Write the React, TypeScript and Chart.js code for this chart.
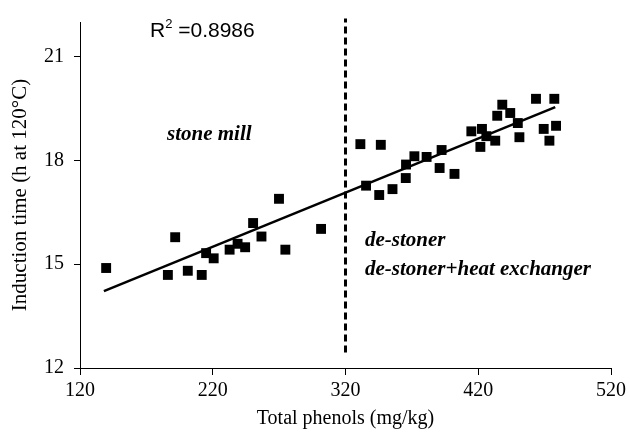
import React, { useEffect, useRef } from "react";
import { Chart, registerables } from "chart.js";

Chart.register(...registerables);

// ---- data ----
const xTickValues = [120, 220, 320, 420, 520];
const yTickValues = [12, 15, 18, 21];

const phenols = [
  139.7, 186.2, 191.7, 201.2, 211.7, 215.0, 220.7, 232.7, 238.7, 244.4, 250.4, 256.7, 269.9, 274.7, 301.6,
  331.2, 346.6, 335.5, 345.4, 355.4, 365.4, 365.6, 371.9, 381.1, 392.4, 390.9, 402.1, 414.8, 422.8, 426.1,
  421.6, 432.8, 434.3, 438.1, 444.1, 449.8, 451.0, 463.5, 477.3, 469.3, 478.6, 473.6,
];
const induction = [
  14.89, 14.69, 15.78, 14.81, 14.69, 15.32, 15.17, 15.42, 15.59, 15.49, 16.19, 15.8, 16.89, 15.42, 16.02,
  18.47, 18.45, 17.27, 17.0, 17.17, 17.49, 17.88, 18.12, 18.1, 18.3, 17.78, 17.61, 18.84, 18.91, 18.7,
  18.39, 18.57, 19.29, 19.61, 19.37, 19.08, 18.67, 19.78, 19.78, 18.91, 19.0, 18.57,
];

const fitX = [138, 478];
const fitY = [14.22, 19.54];

const cutX = [320, 320];
const cutY = [12.45, 22.1];

const r2Text = ["R", "2", " =0.8986"];
const groupLabels = ["stone mill", "de-stoner", "de-stoner+heat exchanger"];

const xTitle = "Total phenols (mg/kg)";
const yTitle = "Induction time (h at 120°C)";

const SERIF = '"Liberation Serif", "Times New Roman", Times, serif';
const SANS = '"Liberation Sans", Arial, Helvetica, sans-serif';

const textPlugin = {
  id: "annotTexts",
  afterDatasetsDraw(chart: any) {
    const { ctx } = chart;
    ctx.save();
    ctx.fillStyle = "#000";
    ctx.textBaseline = "alphabetic";
    ctx.textAlign = "left";
    // R^2
    let px = 150;
    const py = 37;
    ctx.font = `21px ${SANS}`;
    ctx.fillText(r2Text[0], px, py);
    px += ctx.measureText(r2Text[0]).width;
    ctx.font = `13px ${SANS}`;
    ctx.fillText(r2Text[1], px, py - 9);
    px += ctx.measureText(r2Text[1]).width;
    ctx.font = `21px ${SANS}`;
    ctx.fillText(r2Text[2], px, py);

    ctx.font = `italic bold 21px ${SERIF}`;
    ctx.fillText(groupLabels[0], 167, 140);
    ctx.fillText(groupLabels[1], 365, 246);
    ctx.fillText(groupLabels[2], 365, 275);
    ctx.restore();
  },
};

export default function App() {
  const ref = useRef<HTMLCanvasElement | null>(null);

  useEffect(() => {
    if (!ref.current) return;
    const chart = new Chart(ref.current, {
      type: "scatter",
      data: {
        datasets: [
          {
            label: "points",
            data: phenols.map((x, i) => ({ x, y: induction[i] })),
            pointStyle: "rect",
            pointRadius: 7,
            pointBorderWidth: 0,
            backgroundColor: "#000",
            borderColor: "#000",
            showLine: false,
          },
          {
            label: "fit",
            data: fitX.map((x, i) => ({ x, y: fitY[i] })),
            showLine: true,
            pointRadius: 0,
            borderColor: "#000",
            borderWidth: 2.5,
          },
          {
            label: "cut",
            data: cutX.map((x, i) => ({ x, y: cutY[i] })),
            showLine: true,
            pointRadius: 0,
            borderColor: "#000",
            borderWidth: 3,
            borderDash: [7, 4],
            clip: false as any,
          },
        ],
      },
      options: {
        animation: false,
        responsive: false,
        devicePixelRatio: 1,
        layout: { padding: { top: 22, right: 17, left: 0, bottom: 0 } },
        plugins: {
          legend: { display: false },
          tooltip: { enabled: false },
        },
        scales: {
          x: {
            type: "linear",
            min: 120,
            max: 520,
            afterBuildTicks: (s: any) => {
              s.ticks = xTickValues.map((v) => ({ value: v }));
            },
            afterFit: (s: any) => {
              s.height = 65;
            },
            grid: {
              display: true,
              drawOnChartArea: false,
              drawTicks: true,
              tickLength: 7,
              color: "#000",
            },
            border: { display: true, color: "#000", width: 1 },
            ticks: {
              color: "#000",
              font: { family: SERIF, size: 20 },
              padding: 4,
              maxRotation: 0,
            },
            title: {
              display: true,
              text: xTitle,
              color: "#000",
              font: { family: SERIF, size: 20 },
              padding: { top: 0, bottom: 2 },
            },
          },
          y: {
            type: "linear",
            min: 12,
            max: 22,
            afterBuildTicks: (s: any) => {
              s.ticks = yTickValues.map((v) => ({ value: v }));
            },
            afterFit: (s: any) => {
              s.width = 80;
            },
            grid: {
              display: true,
              drawOnChartArea: false,
              drawTicks: true,
              tickLength: 6,
              color: "#000",
            },
            border: { display: true, color: "#000", width: 1 },
            ticks: {
              color: "#000",
              font: { family: SERIF, size: 20 },
              padding: 10,
            },
            title: {
              display: true,
              text: yTitle,
              color: "#000",
              font: { family: SERIF, size: 21 },
              padding: { top: 8, bottom: 0 },
            },
          },
        },
      },
      plugins: [textPlugin],
    });
    return () => chart.destroy();
  }, []);

  return (
    <div style={{ position: "absolute", left: 0, top: 0, width: 630, height: 433, background: "#fff" }}>
      <canvas ref={ref} width={630} height={433} style={{ display: "block" }} />
    </div>
  );
}
